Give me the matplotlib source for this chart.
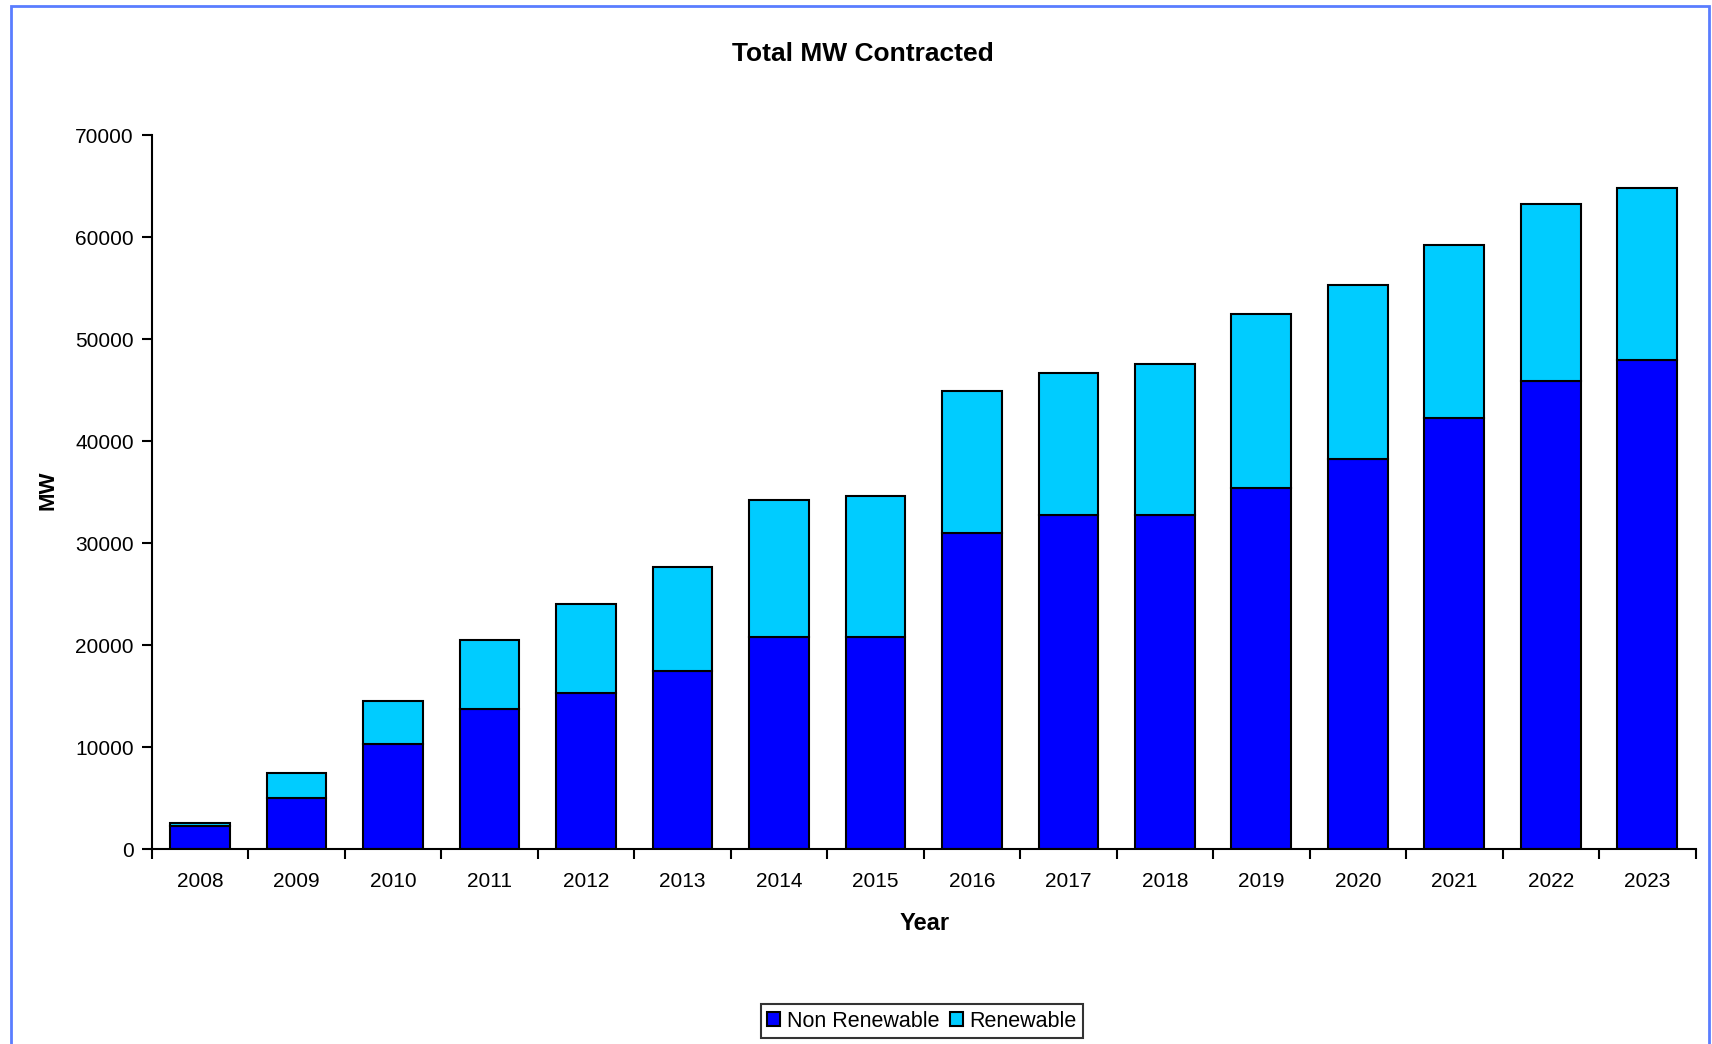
import matplotlib
matplotlib.use('Agg')
import matplotlib.pyplot as plt
import numpy as np
from matplotlib.patches import Rectangle

# 数据
years = ['2008', '2009', '2010', '2011', '2012', '2013', '2014', '2015',
         '2016', '2017', '2018', '2019', '2020', '2021', '2022', '2023']
non_renewable = [2300, 5030, 10380, 13810, 15300, 17450, 20870, 20870,
                 31040, 32750, 32750, 35430, 38320, 42280, 45920, 47950]
renewable = [300, 2460, 4180, 6740, 8780, 10270, 13380, 13810,
             13910, 13920, 14880, 17020, 17020, 17020, 17340, 16910]
yticks = [0, 10000, 20000, 30000, 40000, 50000, 60000, 70000]

plt.rcParams['font.family'] = ['Liberation Sans', 'DejaVu Sans']

fig = plt.figure(figsize=(17.12, 10.44), dpi=100)
ax = fig.add_axes([0.0887, 0.1864, 0.9017, 0.6839])

x = np.arange(len(years))
ax.bar(x, non_renewable, width=0.62, color='#0000ff', edgecolor='black',
       linewidth=1.5, label='Non Renewable')
ax.bar(x, renewable, width=0.62, bottom=non_renewable, color='#00ccff',
       edgecolor='black', linewidth=1.5, label='Renewable')

# 坐标轴
ax.set_xlim(-0.5, len(years) - 0.5)
ax.set_ylim(0, 70000)
ax.set_yticks(yticks)
ax.set_yticklabels([str(v) for v in yticks], fontsize=15)
ax.set_xticks(np.arange(len(years) + 1) - 0.5)
ax.set_xticklabels([])
ax.set_xticks(x, minor=True)
ax.set_xticklabels(years, minor=True, fontsize=15)
ax.tick_params(axis='x', which='major', length=7, width=1.5, direction='out')
ax.tick_params(axis='x', which='minor', length=0, pad=16)
ax.tick_params(axis='y', length=7, width=1.5, direction='out', pad=6)
ax.spines['top'].set_visible(False)
ax.spines['right'].set_visible(False)
ax.spines['left'].set_linewidth(1.5)
ax.spines['bottom'].set_linewidth(1.5)

fig.text(0.504, 0.948, 'Total MW Contracted', ha='center', va='center',
         fontsize=19, fontweight='bold')
fig.text(0.540, 0.115, 'Year', ha='center', va='center', fontsize=17,
         fontweight='bold')
fig.text(0.028, 0.53, 'MW', ha='center', va='center', rotation=90,
         fontsize=16, fontweight='bold')

leg = fig.legend(loc='center', bbox_to_anchor=(0.5385, 0.022), ncol=2,
                 fontsize=15.5, handlelength=0.6, handleheight=0.6,
                 handletextpad=0.3, columnspacing=0.5, fancybox=False,
                 edgecolor='black', borderpad=0.3, borderaxespad=0)
leg.get_frame().set_linewidth(1.5)

# 蓝色外框
fig.patches.append(Rectangle((0.0064, -0.02), 0.9916, 1.0142,
                             transform=fig.transFigure, fill=False,
                             edgecolor='#5a7dff', linewidth=2))

plt.savefig('out.png', dpi=100)
